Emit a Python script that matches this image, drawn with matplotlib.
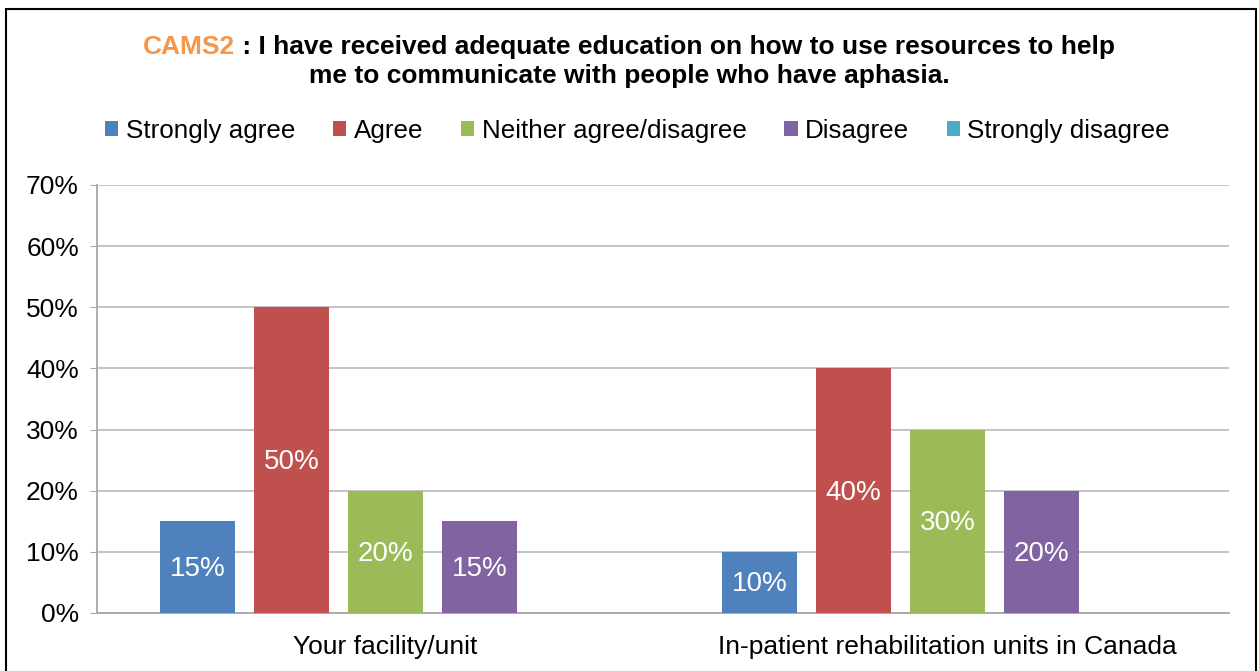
import matplotlib.pyplot as plt
import matplotlib.patches as mpatches
import numpy as np

plt.rcParams['font.family'] = ['Liberation Sans', 'DejaVu Sans']

categories = ['Your facility/unit', 'In-patient rehabilitation units in Canada']
series = ['Strongly agree', 'Agree', 'Neither agree/disagree', 'Disagree', 'Strongly disagree']
values = [
    [15, 10],
    [50, 40],
    [20, 30],
    [15, 20],
    [0, 0],
]
colors = ['#4F81BD', '#C0504D', '#9BBB59', '#8064A2', '#4BACC6']
yticks = [0, 10, 20, 30, 40, 50, 60, 70]

fig = plt.figure(figsize=(12.59, 6.71), dpi=100)
ax = fig.add_axes([97/1259, 1 - 613/671, 1132/1259, 428/671])

x = np.arange(len(categories))
slot = 0.1673
width = 0.1335
for i, (name, vals) in enumerate(zip(series, values)):
    pos = x + (i - 2) * slot
    bars = ax.bar(pos, vals, width, color=colors[i], label=name, zorder=3)
    for b, v in zip(bars, vals):
        if v > 0:
            ax.text(b.get_x() + b.get_width() / 2, v / 2 - 0.3, f'{v}%', ha='center', va='center',
                    color='white', fontsize=20, zorder=4)

ax.set_xlim(-0.5133, 1.5009)
ax.set_ylim(0, 70)
ax.set_yticks(yticks)
ax.set_yticklabels([f'{t}%' for t in yticks], fontsize=19)
ax.set_xticks(x)
ax.set_xticklabels(categories, fontsize=19)
ax.tick_params(axis='x', length=0, pad=16)
ax.tick_params(axis='y', length=5, color='#A6A6A6', pad=8)
ax.yaxis.grid(True, color='#BFBFBF', linewidth=1.3, zorder=0)
for s in ['top', 'right']:
    ax.spines[s].set_visible(False)
for s in ['left', 'bottom']:
    ax.spines[s].set_color('#A6A6A6')
    ax.spines[s].set_linewidth(1.3)

# title with orange prefix
t1 = fig.text(143/1259, 1 - 47/671, 'CAMS2', color='#F79646', fontsize=19,
              fontweight='bold', ha='left', va='center')
ax.annotate(' : I have received adequate education on how to use resources to help',
            xy=(1, 0.5), xycoords=t1, ha='left', va='center', fontsize=19,
            fontweight='bold', color='black', annotation_clip=False)
fig.text(0.5, 1 - 76/671, 'me to communicate with people who have aphasia.', ha='center',
         va='center', fontsize=19, fontweight='bold')

handles = [mpatches.Patch(facecolor=c, edgecolor='none', linewidth=0) for c in colors]
fig.legend(handles, series, loc='center', bbox_to_anchor=(0.5 + 8/1259, 1 - 131/671), ncol=5,
           frameon=False, fontsize=18.7, handlelength=0.52, handleheight=0.52,
           handletextpad=0.28, columnspacing=1.45)

border = mpatches.Rectangle((6/1259, -0.05), 1250/1259, 1.05 - 9/671, transform=fig.transFigure,
                            fill=False, edgecolor='black', linewidth=1.5, clip_on=False)
fig.patches.append(border)

plt.savefig('out.png', dpi=100)
